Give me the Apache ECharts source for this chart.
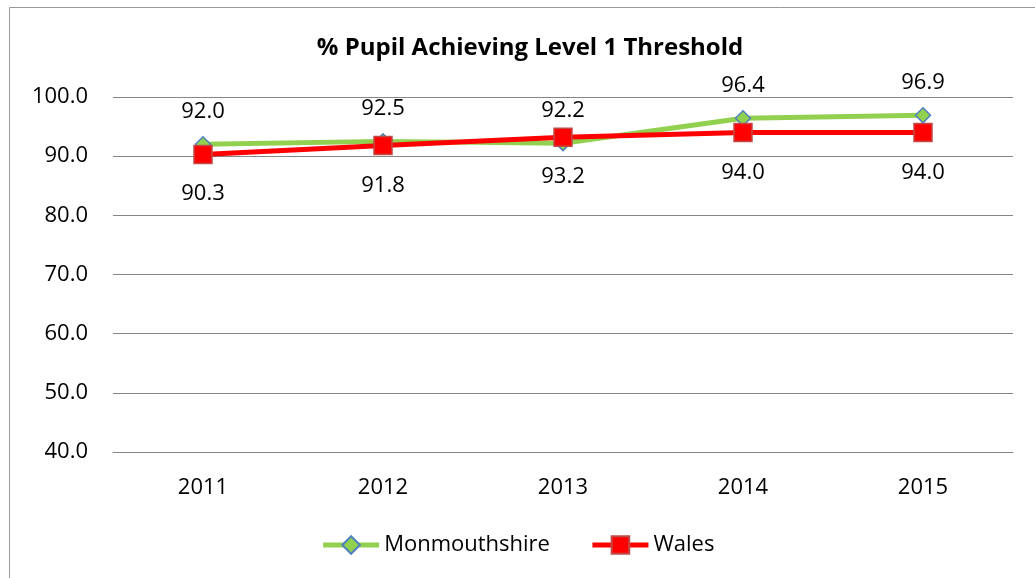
<!DOCTYPE html>
<html>
<head>
<meta charset="utf-8">
<script src="https://cdn.jsdelivr.net/npm/echarts@6/dist/echarts.min.js"></script>
<style>
  html, body { margin: 0; padding: 0; background: #fff; }
  #chart { width: 1035px; height: 578px; }
</style>
</head>
<body>
<div id="chart"></div>
<script>
// chart data
const years = ['2011', '2012', '2013', '2014', '2015']
const monmouthshire = [92.0, 92.5, 92.2, 96.4, 96.9]
const wales = [90.3, 91.8, 93.2, 94.0, 94.0]

const font = '"Open Sans", sans-serif'
let myChart = echarts.init(document.getElementById('chart'))

myChart.setOption({
  backgroundColor: '#fff',
  animation: false,
  title: {
    text: '% Pupil Achieving Level 1 Threshold',
    left: 525,
    top: 31,
    textAlign: 'center',
    textStyle: { fontFamily: font, fontSize: 24, fontWeight: 'bold', color: '#000' }
  },
  // the outer frame (only left and top edges show in the picture)
  graphic: [{
    type: 'rect',
    shape: { x: 9.5, y: 7.5, width: 1200, height: 800 },
    style: { fill: 'none', stroke: '#999', lineWidth: 1 },
    silent: true
  }],
  grid: { left: 113, right: 22, top: 97, bottom: 126 },
  legend: {
    bottom: 17,
    left: 'center',
    itemWidth: 56,
    itemHeight: 22,
    itemGap: 40,
    textStyle: { fontFamily: font, fontSize: 22, color: '#000' },
    data: [
      { name: 'Monmouthshire', lineStyle: { width: 5 } },
      { name: 'Wales', lineStyle: { width: 5 } }
    ]
  },
  xAxis: {
    type: 'category',
    data: years,
    axisLine: { show: true, lineStyle: { color: '#868686' } },
    axisTick: { show: false },
    axisLabel: { fontFamily: font, fontSize: 22, color: '#000', margin: 25 }
  },
  yAxis: {
    type: 'value',
    min: 40,
    max: 100,
    interval: 10,
    axisLine: { show: false },
    axisTick: { show: false },
    splitLine: { lineStyle: { color: '#868686', width: 1 } },
    axisLabel: {
      fontFamily: font, fontSize: 22, color: '#000', margin: 25,
      formatter: v => v.toFixed(1)
    }
  },
  series: [
    {
      name: 'Monmouthshire',
      type: 'line',
      data: monmouthshire,
      symbol: 'diamond',
      symbolSize: 15,
      lineStyle: { color: '#92D050', width: 5 },
      itemStyle: { color: '#92D050', borderColor: '#4F81BD', borderWidth: 1.5 },
      label: {
        show: true, position: 'top', distance: 13,
        fontFamily: font, fontSize: 22, color: '#000',
        formatter: p => p.value.toFixed(1)
      },
      z: 2
    },
    {
      name: 'Wales',
      type: 'line',
      data: wales,
      symbol: 'rect',
      symbolSize: 18,
      lineStyle: { color: '#FF0000', width: 5 },
      itemStyle: { color: '#FF0000', borderColor: '#BE4B48', borderWidth: 1.5 },
      label: {
        show: true, position: 'bottom', distance: 19,
        fontFamily: font, fontSize: 22, color: '#000',
        formatter: p => p.value.toFixed(1)
      },
      z: 3
    }
  ]
})
</script>
</body>
</html>
